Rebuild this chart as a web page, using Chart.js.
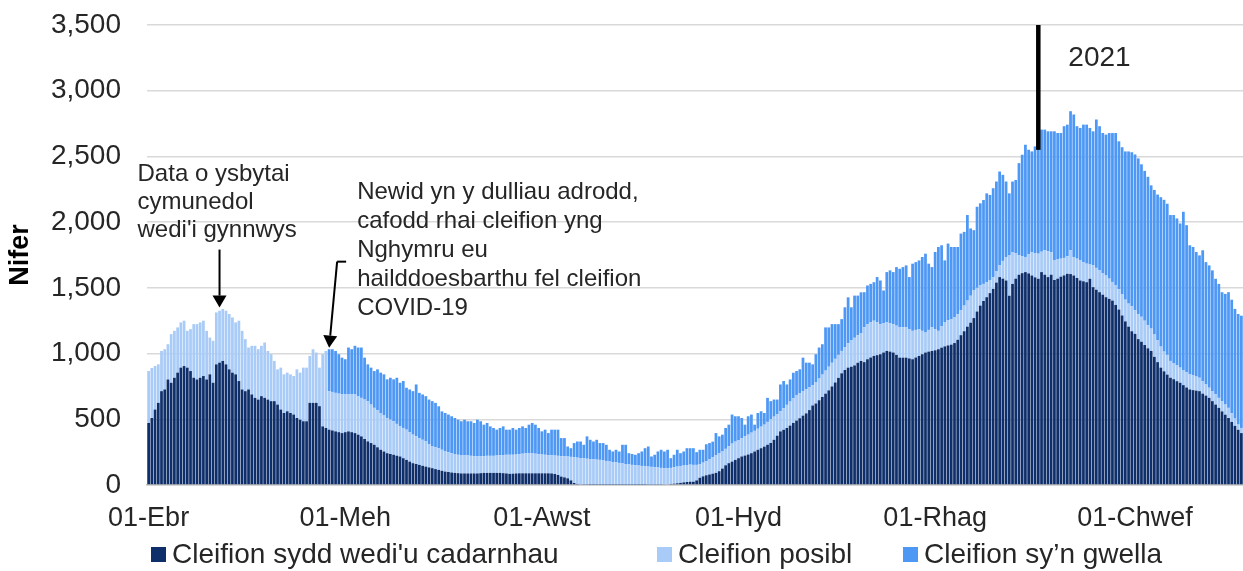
<!DOCTYPE html>
<html>
<head>
<meta charset="utf-8">
<script src="https://cdn.jsdelivr.net/npm/chart.js@4.4.0/dist/chart.umd.min.js"></script>
<style>
  html, body { margin: 0; padding: 0; background: #fff; }
  #wrap { width: 1243px; height: 571px; position: relative; }
</style>
</head>
<body>
<div id="wrap"><canvas id="myChart"></canvas></div>
<script>
// daily values, 01 Apr 2020 to 06 Mar 2021
const monthNames = ['Ion', 'Chwef', 'Maw', 'Ebr', 'Mai', 'Meh', 'Gorff', 'Awst', 'Medi', 'Hyd', 'Tach', 'Rhag'];
const tickLabels = ['01-Ebr', '01-Meh', '01-Awst', '01-Hyd', '01-Rhag', '01-Chwef'];
const seriesNames = ["Cleifion sydd wedi'u cadarnhau", 'Cleifion posibl', 'Cleifion sy\u2019n gwella'];
const seriesColors = ['#0f2f6b', '#a9cbf7', '#4d97f5'];

const confirmed = [
  472,510,574,625,714,727,803,778,816,855, 893,905,893,867,816,803,816,829,803,842,
  778,918,931,944,918,880,855,842,791,727, 714,727,689,663,650,676,663,650,638,638,
  612,574,548,561,548,536,510,497,485,485, 625,625,625,600,446,434,
  421,415,408,402,395,402,408,402,395,383, 370,350,332,319,306,287,268,255,242,236,
  230,223,217,204,191,178,166,160,153,146, 140,134,128,121,115,108,102,99,95,92,
  90,88,88,88,88,88,88,90,92,92, 92,92,92,92,90,88,
  85,86,88,89,89,89,89,89,89,89, 89,89,89,88,84,76,64,58,51,35,
  15,8,5,4,4,3,3,3,3,3, 3,3,3,3,3,3,3,3,3,3,
  3,3,3,4,4,4,4,4,5,6, 8,10,13,16,20,23,25,
  25,35,55,66,74,80,86,92,105,125, 150,166,178,191,204,217,224,232,242,255,
  268,280,292,306,320,344,375,408,420,434, 452,472,490,508,528,545,570,605,620,645,
  670,695,720,750,780,815,850,875,893,900, 910,930,944,
  935,957,970,982,988,995,1008,1020,1015,1008, 990,969,969,969,963,957,970,982,995,1008,
  1015,1020,1025,1033,1045,1055,1062,1068,1080,1105, 1140,1170,1205,1235,1270,1320,1365,1400,1429,1460,
  1492,1540,1582,1570,1556,1440,1530,1570,1600,1612, 1620,1610,1594,1580,1569,1620,1600,1582,1600,
  1560,1570,1585,1595,1607,1605,1594,1575,1556,1550, 1543,1569,1505,1486,1467,1448,1429,1416,1403,1370,
  1335,1290,1245,1205,1170,1150,1110,1090,1065,1040, 1020,975,935,893,865,840,816,805,790,778,
  760,742,727,722,718,714,695,680,663,638, 612,587,560,535,510,480,450,420,395
];

const suspected = [
  395,380,331,293,306,306,268,370,357,344, 344,345,280,319,408,421,421,421,370,280,
  319,395,395,395,408,421,420,395,459,446, 396,319,370,396,383,383,421,370,357,306,
  268,319,294,294,294,293,370,358,408,408, 357,408,383,293,549,586,
  293,293,293,293,294,287,281,287,294,293, 293,300,306,293,281,281,280,274,268,261,
  255,242,229,230,230,224,217,210,204,198, 192,178,165,166,165,160,153,150,147,144,
  140,137,137,137,134,132,132,130,128,130, 130,130,132,134,138,142,
  145,144,144,146,149,151,151,151,149,146, 143,141,139,138,140,146,156,160,166,179,
  196,200,200,199,196,195,193,190,188,184, 180,176,172,169,165,161,157,154,150,147,
  145,142,140,136,134,131,129,126,123,122, 122,125,127,129,128,129,130,
  128,118,105,104,106,115,124,133,135,130, 125,129,137,139,138,138,146,151,156,157,
  160,164,167,174,180,176,165,153,165,176, 183,188,195,192,187,185,175,155,160,165,
  170,175,180,180,180,175,170,175,187,200, 210,210,211,
  265,267,267,268,252,229,222,217,215,216, 222,230,230,230,223,216,210,204,178,152,
  165,179,161,140,165,185,193,192,195,195, 190,195,198,205,210,180,153,130,114,100,
  90,85,89,135,179,310,240,195,150,128, 115,145,176,185,191,155,186,198,170,
  152,146,137,133,133,181,141,147,153,146, 141,109,166,166,166,165,165,154,142,148,
  155,160,165,175,190,180,190,190,185,175, 170,170,165,160,150,150,128,120,120,115,
  115,116,115,112,107,102,95,85,77,77, 78,76,78,77,77,65,55,40,39
];

// reporting of recovering patients starts 27 May
const recovering = [
  null,null,null,null,null,null,null,null,null,null, null,null,null,null,null,null,null,null,null,null,
  null,null,null,null,null,null,null,null,null,null, null,null,null,null,null,null,null,null,null,null,
  null,null,null,null,null,null,null,null,null,null, null,null,null,null,null,null,
  319,325,319,300,280,268,357,344,370,370, 383,319,280,281,280,312,307,313,294,319,
  319,351,332,357,319,325,331,395,344,345, 344,338,345,338,319,292,293,287,281,274,
  267,260,272,260,263,252,277,265,239,250, 224,212,197,208,218,191,
  191,204,189,199,208,194,219,232,221,199, 176,191,167,195,197,199,137,139,76,66,
  108,123,126,103,170,146,135,151,128,132, 123,89,80,96,87,142,146,85,83,80,
  94,110,137,153,79,95,122,138,127,140, 74,95,128,97,107,128,125,
  127,97,108,98,130,124,120,170,130,128, 159,164,221,193,181,155,89,140,138,47,
  120,117,89,183,138,130,110,204,206,155, 168,194,182,180,254,201,186,158,215,236,
  231,329,299,294,264,234,242,302,348,252, 321,301,311,
  267,294,293,293,342,332,250,383,403,396, 446,446,459,472,396,511,516,523,562,600,
  504,459,587,638,614,469,582,551,536,511, 583,561,651,512,459,617,625,638,676,647,
  676,684,714,655,574,469,539,556,699,773, 854,796,768,811,800,929,918,911,921,
  979,962,956,1002,1002,1058,1084,1008,1008,1046, 1058,1039,1020,1129,1097,1065,1072,1108,1133,1160,
  1125,1120,1128,1158,1172,1185,1185,1160,1140,1130, 1090,1100,1110,1137,1155,1150,1110,1129,1118,1097,
  1204,1119,982,977,948,931,996,931,931,918, 879,867,829,842,880,865,835,841,854
];

const categories = [];
for (let i = 0; i < confirmed.length; i++) {
  const d = new Date(2020, 3, 1 + i);
  categories.push(String(d.getDate()).padStart(2, '0') + '-' + monthNames[d.getMonth()]);
}

const FONT = '"Liberation Sans", Arial, sans-serif';
const TEXT = '#262626';

const notesPlugin = {
  id: 'notes',
  afterDatasetsDraw(chart) {
    const { ctx, scales: { x, y } } = chart;
    ctx.save();

    function arrow(x0, y0, x1, y1) {
      const ang = Math.atan2(y1 - y0, x1 - x0);
      const hl = 12, hw = 7;
      const bx = x1 - hl * Math.cos(ang), by = y1 - hl * Math.sin(ang);
      ctx.beginPath();
      ctx.moveTo(x0, y0);
      ctx.lineTo(bx, by);
      ctx.stroke();
      ctx.beginPath();
      ctx.moveTo(x1, y1);
      ctx.lineTo(bx + hw * Math.sin(ang), by - hw * Math.cos(ang));
      ctx.lineTo(bx - hw * Math.sin(ang), by + hw * Math.cos(ang));
      ctx.closePath();
      ctx.fill();
    }

    ctx.strokeStyle = '#000';
    ctx.fillStyle = '#000';
    ctx.lineWidth = 2;

    // note 1: community hospitals
    const t1x = x.getPixelForValue(22), t1y = y.getPixelForValue(1350);
    arrow(t1x, t1y - 58, t1x, t1y);
    ctx.fillStyle = TEXT;
    ctx.font = '24px ' + FONT;
    ctx.textBaseline = 'middle';
    ctx.textAlign = 'left';
    ["Data o ysbytai", "cymunedol", "wedi'i gynnwys"].forEach((s, i) => {
      ctx.fillText(s, t1x - 82, t1y - 133 + i * 28);
    });

    // note 2: change in reporting
    const t2x = x.getPixelForValue(56), t2y = y.getPixelForValue(1045);
    ctx.fillStyle = '#000';
    ctx.beginPath();
    ctx.moveTo(t2x + 17, t2y - 86);
    ctx.lineTo(t2x + 8, t2y - 86);
    ctx.stroke();
    arrow(t2x + 8, t2y - 86, t2x, t2y);
    ctx.fillStyle = TEXT;
    ["Newid yn y dulliau adrodd,", "cafodd rhai cleifion yng", "Nghymru eu",
     "hailddoesbarthu fel cleifion", "COVID-19"].forEach((s, i) => {
      ctx.fillText(s, t2x + 28, t2y - 155 + i * 29);
    });

    // 2021 marker
    const lx = x.getPixelForValue(276);
    ctx.strokeStyle = '#000';
    ctx.lineWidth = 4.5;
    ctx.beginPath();
    ctx.moveTo(lx, y.getPixelForValue(3500));
    ctx.lineTo(lx, y.getPixelForValue(2550));
    ctx.stroke();
    ctx.fillStyle = TEXT;
    ctx.font = '28px ' + FONT;
    ctx.fillText('2021', lx + 30, y.getPixelForValue(3250));

    ctx.restore();
  },
  afterDraw(chart) {
    // legend row under the axis
    const ctx = chart.ctx;
    const boxX = [151, 657, 903];
    const cy = 555;
    ctx.save();
    ctx.font = '28px ' + FONT;
    ctx.textBaseline = 'middle';
    ctx.textAlign = 'left';
    seriesNames.forEach((name, i) => {
      ctx.fillStyle = seriesColors[i];
      ctx.fillRect(boxX[i], cy - 8, 15, 15);
      ctx.fillStyle = TEXT;
      ctx.fillText(name, boxX[i] + 21, cy);
    });
    ctx.restore();
  }
};

const ctx = document.getElementById('myChart').getContext('2d');
new Chart(ctx, {
  type: 'bar',
  data: {
    labels: categories,
    datasets: [
      { label: seriesNames[0], data: confirmed, backgroundColor: seriesColors[0] },
      { label: seriesNames[1], data: suspected, backgroundColor: seriesColors[1] },
      { label: seriesNames[2], data: recovering, backgroundColor: seriesColors[2] }
    ]
  },
  options: {
    responsive: true,
    maintainAspectRatio: false,
    animation: false,
    datasets: { bar: { barPercentage: 0.85, categoryPercentage: 1 } },
    layout: { padding: { top: 25, right: 0, left: 0, bottom: 36 } },
    plugins: {
      tooltip: { enabled: false },
      legend: { display: false }
    },
    scales: {
      x: {
        stacked: true,
        afterFit: s => { s.height = 50; },
        grid: {
          drawOnChartArea: false,
          tickLength: 7,
          lineWidth: 1.5,
          color: c => (c.tick && tickLabels.includes(categories[c.index])) ? '#bfbfbf' : 'rgba(0,0,0,0)'
        },
        border: { display: true, color: '#bfbfbf', width: 1.5 },
        ticks: {
          autoSkip: false,
          maxRotation: 0,
          minRotation: 0,
          padding: 10,
          font: { family: FONT, size: 27 },
          color: TEXT,
          callback: (v, i) => tickLabels.includes(categories[i]) ? categories[i] : null
        }
      },
      y: {
        stacked: true,
        min: 0,
        max: 3500,
        afterFit: s => {
          s.width = 147;
          // tick padding would otherwise push the plot top down
          s.paddingTop = 0;
          s.paddingBottom = 0;
        },
        grid: { color: '#d9d9d9', lineWidth: 1.5, drawTicks: false },
        border: { display: false },
        ticks: {
          stepSize: 500,
          padding: 26,
          font: { family: FONT, size: 28 },
          color: TEXT,
          callback: v => v.toLocaleString('en-GB')
        },
        title: {
          display: true,
          text: 'Nifer',
          color: '#000',
          font: { family: FONT, size: 27, weight: 'bold' },
          padding: { top: 4, bottom: 0 }
        }
      }
    }
  },
  plugins: [notesPlugin]
});
</script>
</body>
</html>
